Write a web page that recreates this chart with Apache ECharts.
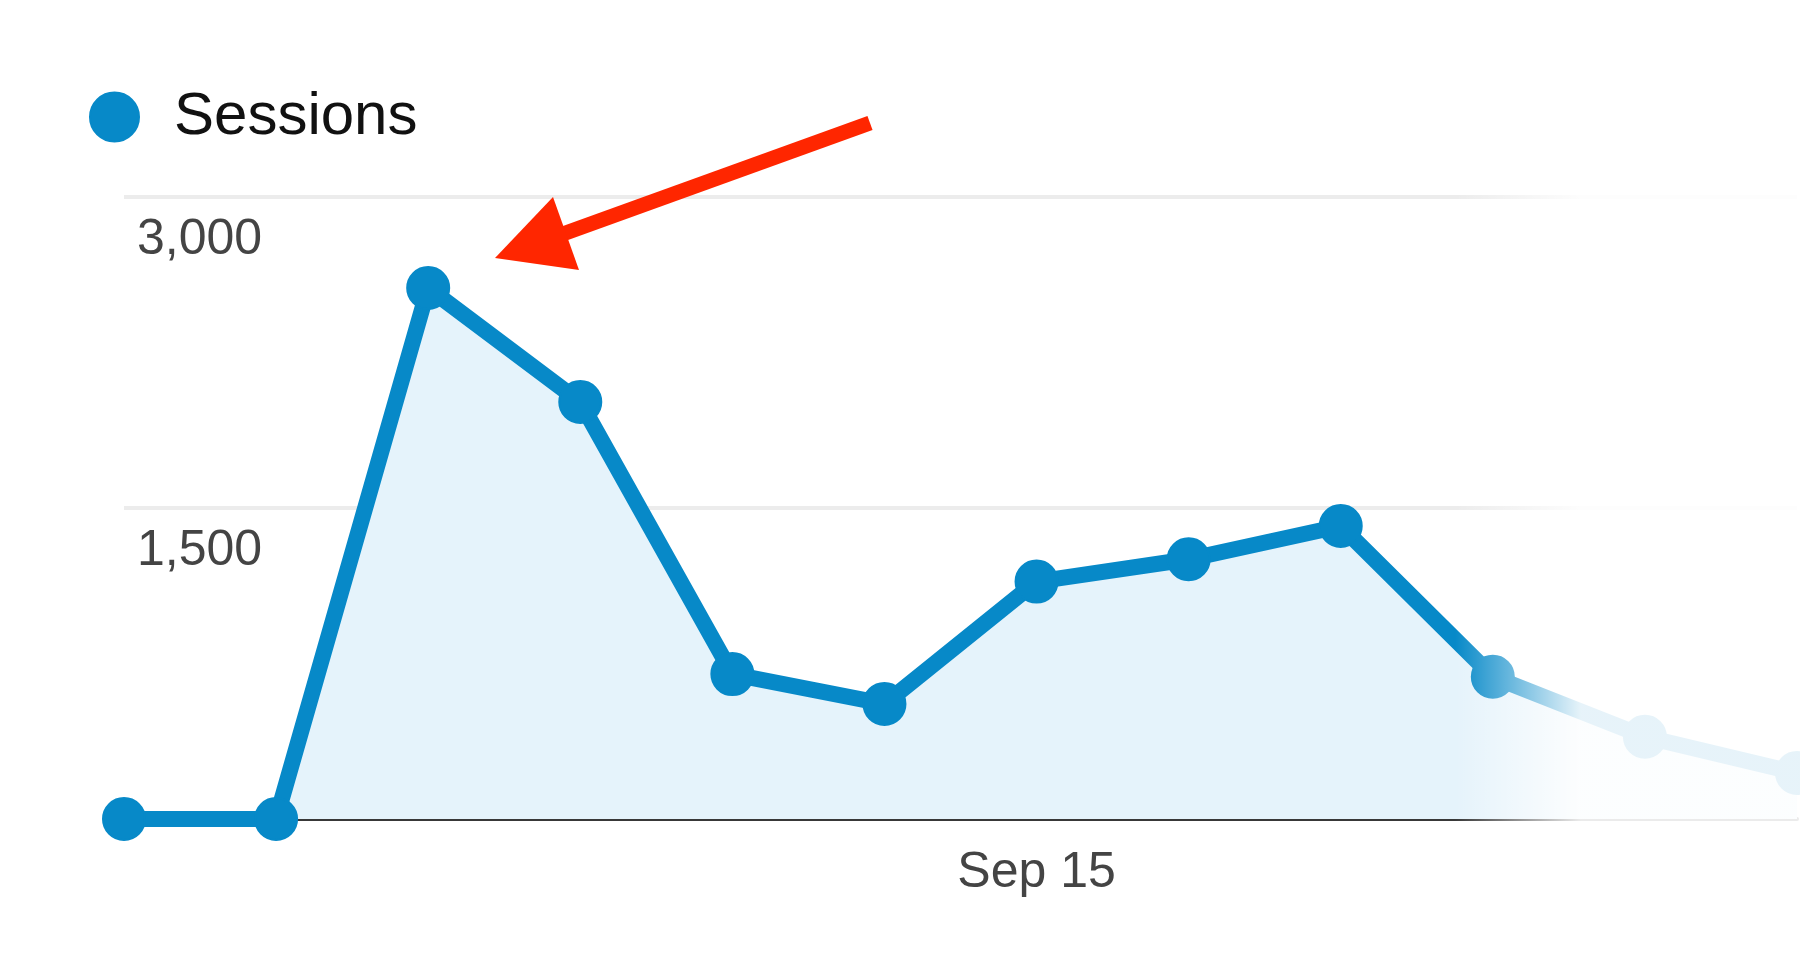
<!DOCTYPE html>
<html>
<head>
<meta charset="utf-8">
<script src="https://cdn.jsdelivr.net/npm/echarts@6/dist/echarts.min.js"></script>
<style>
html,body{margin:0;padding:0;background:#fff;}
#chart{width:1800px;height:962px;}
</style>
</head>
<body>
<div id="chart"></div>
<script>
const seriesName = 'Sessions';
const categories = ['Sep 9','Sep 10','Sep 11','Sep 12','Sep 13','Sep 14','Sep 15','Sep 16','Sep 17','Sep 18','Sep 19','Sep 20'];
const sessions = [0, 0, 2561, 2011, 699, 555, 1145, 1253, 1413, 686, 397, 222];
const shownXLabels = ['Sep 15'];
const yTicks = [0, 1500, 3000];

const FONT = "'Liberation Sans', Arial, Helvetica, sans-serif";
const BLUE = '#0789c8';

const chart = echarts.init(document.getElementById('chart'));
chart.setOption({
  animation: false,
  backgroundColor: '#ffffff',
  legend: {
    data: [seriesName],
    icon: 'circle',
    left: 84,
    top: 82,
    itemWidth: 49,
    itemHeight: 49,
    textStyle: { fontFamily: FONT, fontSize: 60, color: '#111111', padding: [0, 0, 0, 30] }
  },
  grid: { left: 124, right: 3, top: 197, bottom: 143, containLabel: false, outerBoundsMode: 'none' },
  xAxis: {
    type: 'category',
    data: categories,
    boundaryGap: false,
    axisTick: { show: false },
    axisLine: { show: true, lineStyle: { color: '#383838', width: 4 } },
    splitLine: { show: false },
    axisLabel: {
      interval: function (idx, val) { return shownXLabels.indexOf(val) >= 0; },
      fontFamily: FONT, fontSize: 50, color: '#444444', margin: 29
    }
  },
  yAxis: {
    type: 'value',
    min: yTicks[0],
    max: yTicks[yTicks.length - 1],
    interval: yTicks[1] - yTicks[0],
    axisLine: { show: false },
    axisTick: { show: false },
    splitLine: { show: true, lineStyle: { color: '#ececec', width: 4 } },
    axisLabel: {
      inside: true,
      showMinLabel: false,
      margin: 13,
      verticalAlign: 'top',
      lineHeight: 87,
      fontFamily: FONT, fontSize: 50, color: '#444444',
      formatter: function (v) { return v.toLocaleString('en-US'); }
    }
  },
  series: [{
    name: seriesName,
    type: 'line',
    data: sessions,
    symbol: 'circle',
    symbolSize: 42,
    showSymbol: true,
    lineStyle: { color: BLUE, width: 16, join: 'round', cap: 'round' },
    itemStyle: { color: BLUE, borderColor: BLUE, borderWidth: 2 },
    areaStyle: { color: '#e5f3fb', opacity: 1 },
    emphasis: { disabled: true },
    z: 3
  }],
  graphic: [
    {
      type: 'rect',
      z: 100,
      silent: true,
      shape: { x: 1455, y: 150, width: 345, height: 812 },
      style: {
        fill: new echarts.graphic.LinearGradient(0, 0, 1, 0, [
          { offset: 0, color: 'rgba(255,255,255,0)' },
          { offset: 0.365, color: 'rgba(255,255,255,0.9)' },
          { offset: 1, color: 'rgba(255,255,255,0.9)' }
        ])
      }
    },
    {
      type: 'line',
      z: 101,
      silent: true,
      shape: { x1: 870, y1: 123, x2: 560, y2: 235 },
      style: { stroke: '#ff2600', lineWidth: 15 }
    },
    {
      type: 'polygon',
      z: 101,
      silent: true,
      shape: { points: [[495, 258], [553, 197], [579, 270]] },
      style: { fill: '#ff2600' }
    }
  ]
});
</script>
</body>
</html>
